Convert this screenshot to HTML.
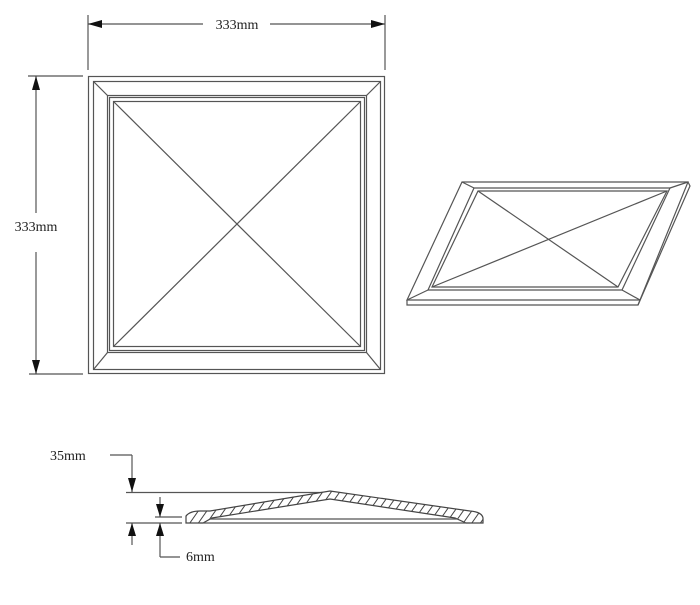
<!DOCTYPE html>
<html><head><style>
html,body{margin:0;padding:0;background:#fff;}
svg{display:block;}
text{font-family:"Liberation Serif",serif;font-size:14px;fill:#222;}
</style></head><body>
<svg width="700" height="605" viewBox="0 0 700 605" xmlns="http://www.w3.org/2000/svg">
<defs>
<pattern id="h" patternUnits="userSpaceOnUse" width="7" height="7" patternTransform="rotate(35)">
<rect width="7" height="7" fill="#fff"/><line x1="0" y1="0" x2="0" y2="7" stroke="#444" stroke-width="2"/>
</pattern>
</defs>
<g stroke="#555" stroke-width="1.2" fill="none">
<line x1="88" y1="15" x2="88" y2="70"/><line x1="385" y1="15" x2="385" y2="70"/>
<line x1="88" y1="24" x2="203" y2="24"/><line x1="270" y1="24" x2="385" y2="24"/>
<line x1="28" y1="76" x2="83" y2="76"/><line x1="29" y1="374" x2="83" y2="374"/>
<line x1="36" y1="76" x2="36" y2="213"/><line x1="36" y1="252" x2="36" y2="374"/>
<rect x="88.5" y="76.5" width="296" height="297"/>
<rect x="93.5" y="81.5" width="287" height="288"/>
<rect x="107.5" y="95.5" width="259" height="257"/>
<rect x="109.5" y="97.5" width="255" height="253"/>
<rect x="113.5" y="101.5" width="247" height="245"/>
<line x1="93.5" y1="81.5" x2="107.5" y2="95.5"/><line x1="380.5" y1="81.5" x2="366.5" y2="95.5"/>
<line x1="93.5" y1="369.5" x2="107.5" y2="352.5"/><line x1="380.5" y1="369.5" x2="366.5" y2="352.5"/>
<line x1="113.5" y1="101.5" x2="360.5" y2="346.5"/><line x1="360.5" y1="101.5" x2="113.5" y2="346.5"/>
<polygon points="407,300 640,300 688,182 462,182"/>
<polyline points="407,300 407,305 638,305 690,186 688,182"/>
<line x1="640" y1="300" x2="638" y2="305"/>
<polygon points="428,290 622,290 670,188 474,188"/>
<polygon points="432,287 618,287 667,191 478,191"/>
<line x1="407" y1="300" x2="428" y2="290"/><line x1="640" y1="300" x2="622" y2="290"/>
<line x1="688" y1="182" x2="670" y2="188"/><line x1="462" y1="182" x2="474" y2="188"/>
<line x1="478" y1="191" x2="618" y2="287"/><line x1="432" y1="287" x2="667" y2="191"/>
<line x1="110" y1="455" x2="132" y2="455"/><line x1="132" y1="455" x2="132" y2="492"/>
<line x1="126" y1="492.5" x2="330" y2="492.5"/>
<line x1="155" y1="517" x2="182" y2="517"/><line x1="126" y1="523" x2="182" y2="523"/>
<line x1="160" y1="497" x2="160" y2="517"/>
<line x1="132" y1="523" x2="132" y2="545"/>
<line x1="160" y1="523" x2="160" y2="557"/><line x1="160" y1="557" x2="180" y2="557"/>
</g>
<g fill="#111">
<polygon points="88,24 102,20 102,28"/><polygon points="385,24 371,20 371,28"/>
<polygon points="36,76 32,90 40,90"/><polygon points="36,374 32,360 40,360"/>
<polygon points="132,492 128,478 136,478"/>
<polygon points="160,517 156,504 164,504"/>
<polygon points="132,523 128,536 136,536"/>
<polygon points="160,523 156,536 164,536"/>
</g>
<path d="M186,523 L186,516 Q190,511 200,511 L210,511 L330,491 L470,511 Q482,512 483,518 L483,523 L466,523 L455,518 L330,499 L212,518 L203,523 Z" fill="url(#h)" stroke="#444" stroke-width="1.2"/>
<line x1="210" y1="519" x2="458" y2="519" stroke="#555" stroke-width="1.2"/>
<line x1="200" y1="523" x2="470" y2="523" stroke="#555" stroke-width="1.2"/>
<text x="237" y="29" text-anchor="middle">333mm</text>
<text x="36" y="231" text-anchor="middle">333mm</text>
<text x="50" y="460">35mm</text>
<text x="186" y="561">6mm</text>
</svg>
</body></html>
